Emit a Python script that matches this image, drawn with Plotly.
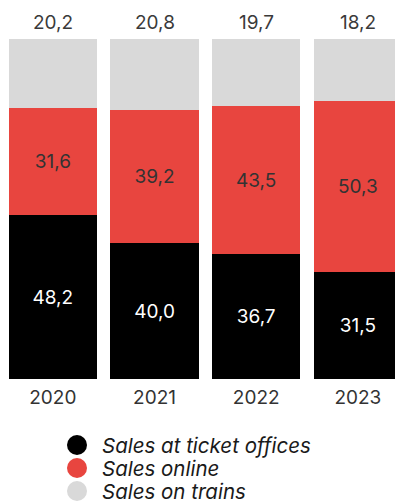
import plotly.graph_objects as go

# Sales channel shares by year, %
years = ["2020", "2021", "2022", "2023"]
ticket_offices = [48.2, 40.0, 36.7, 31.5]
online = [31.6, 39.2, 43.5, 50.3]
on_trains = [20.2, 20.8, 19.7, 18.2]

series_names = ["Sales at ticket offices", "Sales online", "Sales on trains"]
series_values = [ticket_offices, online, on_trains]
series_colors = ["#000000", "#E8453F", "#D9D9D9"]
label_colors = ["#FFFFFF", "#333333", "#3A3A3A"]

FONT = "Inter"
W, H = 395, 503
M_L, M_R, M_T, M_B = 2, 0, 39, 124


def fmt(v):
    return f"{v:.1f}".replace(".", ",")


fig = go.Figure()
for i, (name, vals, col, lcol) in enumerate(zip(series_names, series_values,
                                               series_colors, label_colors)):
    inside = i < 2
    fig.add_trace(go.Bar(
        x=years, y=vals, name=name,
        marker=dict(color=col, line=dict(width=0)),
        text=[fmt(v) for v in vals] if inside else None,
        textposition="inside" if inside else "none",
        insidetextanchor="middle",
        textfont=dict(family=FONT, size=19, color=lcol),
        showlegend=False,
        hoverinfo="skip",
    ))

annotations = []
# On-train share printed above each stacked column (x = category index)
for idx, (a, b, c) in enumerate(zip(ticket_offices, online, on_trains)):
    annotations.append(dict(x=idx, y=round(a + b + c, 3), xref="x", yref="y",
                            text=fmt(c), showarrow=False,
                            xanchor="center", yanchor="middle", yshift=17,
                            font=dict(family=FONT, size=19,
                                      color=label_colors[2])))

# Legend: coloured dots with italic captions under the chart
plot_h = H - M_T - M_B
plot_w = W - M_L - M_R
legend_rows_px = [445, 468, 491]
dot_x = (77 - M_L) / plot_w
text_x = (100 - M_L) / plot_w
shapes = []
for name, col, py in zip(series_names, series_colors, legend_rows_px):
    yp = (H - M_B - py) / plot_h
    shapes.append(dict(type="circle", xref="paper", yref="paper",
                       xsizemode="pixel", ysizemode="pixel",
                       xanchor=dot_x, yanchor=yp,
                       x0=-10, x1=10, y0=-10, y1=10,
                       fillcolor=col, line=dict(width=0)))
    annotations.append(dict(text=name, xref="paper", yref="paper",
                            x=text_x, y=yp, xanchor="left", yanchor="middle",
                            showarrow=False,
                            font=dict(family=FONT, size=20.5, color="#1A1A1A",
                                      style="italic")))

pitch = 101.67
fig.update_layout(
    width=W, height=H,
    margin=dict(l=M_L, r=M_R, t=M_T, b=M_B),
    barmode="stack", bargap=0.134,
    paper_bgcolor="white", plot_bgcolor="white",
    shapes=shapes, annotations=annotations,
    xaxis=dict(type="category", range=[-0.5, -0.5 + plot_w / pitch],
               showgrid=False, zeroline=False, showline=False,
               ticks="", ticklabelstandoff=5,
               tickfont=dict(family=FONT, size=19, color="#333333")),
    yaxis=dict(range=[0, 100.01], visible=False, fixedrange=True),
    uniformtext=dict(mode=False),
)

fig.write_html("out.html")
